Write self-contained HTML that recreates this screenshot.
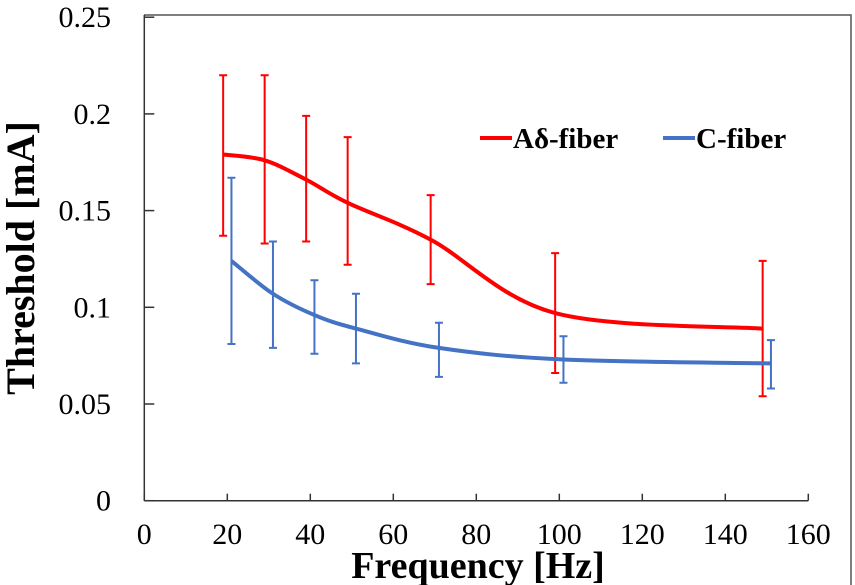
<!DOCTYPE html>
<html><head><meta charset="utf-8"><style>
html,body{margin:0;padding:0;background:#fff}
svg{display:block}
text{font-family:"Liberation Serif",serif;fill:#000}
</style></head><body>
<svg width="855" height="585" id="c">
<polyline points="144,15 851,15 851,585" fill="none" stroke="#555" stroke-width="1.5"/>
<g id="axes"></g>
<g id="series"></g>
<text x="34" y="258" font-size="40" font-weight="bold" text-anchor="middle" transform="rotate(-90 34 258)">Threshold [mA]</text>
<text x="478" y="578" font-size="38" font-weight="bold" text-anchor="middle">Frequency [Hz]</text>
<g>
<line x1="480" y1="138" x2="512" y2="138" stroke="#f00" stroke-width="4"/>
<text x="513" y="148" font-size="29" font-weight="bold">Aδ-fiber</text>
<line x1="663" y1="138" x2="695" y2="138" stroke="#4472c4" stroke-width="4"/>
<text x="696" y="148" font-size="29" font-weight="bold">C-fiber</text>
</g>
</svg>
<script>
const xTicks=[0,20,40,60,80,100,120,140,160];
const yTicks=[0,0.05,0.1,0.15,0.2,0.25];
const yTickLabels=["0","0.05","0.1","0.15","0.2","0.25"];
const aFreq=[19,29,39,49,69,99,149];
const aMean=[0.179,0.176,0.166,0.154,0.135,0.097,0.089];
const aHi=[0.220,0.220,0.199,0.188,0.158,0.128,0.124];
const aLo=[0.137,0.133,0.134,0.122,0.112,0.066,0.054];
const cFreq=[21,31,41,51,71,101,151];
const cMean=[0.124,0.107,0.096,0.089,0.079,0.073,0.071];
const cHi=[0.167,0.134,0.114,0.107,0.092,0.085,0.083];
const cLo=[0.081,0.079,0.076,0.071,0.064,0.061,0.058];
const X=v=>144.3+v*4.15, Y=v=>500.7-v*1934;
const NS="http://www.w3.org/2000/svg";
function mk(t,a,p){const e=document.createElementNS(NS,t);for(const k in a)e.setAttribute(k,a[k]);p.appendChild(e);return e;}
const ax=document.getElementById('axes'), se=document.getElementById('series');
let l=mk('line',{x1:X(0),y1:Y(0),x2:X(160),y2:Y(0),stroke:'#333','stroke-width':1.5},ax);


l=mk('line',{x1:X(0),y1:Y(0),x2:X(0),y2:15,stroke:'#333','stroke-width':1.5},ax);


xTicks.forEach(v=>{
 const t=mk('line',{x1:X(v),y1:Y(0),x2:X(v),y2:Y(0)-7,stroke:'#333','stroke-width':1.5},ax);
 
 
 const tx=mk('text',{x:X(v),y:544,'font-size':30,'text-anchor':'middle'},ax);tx.textContent=v;
 
 
});
yTicks.forEach((v,i)=>{
 const t=mk('line',{x1:X(0),y1:Y(v),x2:X(0)+10,y2:Y(v),stroke:'#333','stroke-width':1.5},ax);
 
 
 const tx=mk('text',{x:111,y:Y(v)+10,'font-size':30,'text-anchor':'end'},ax);tx.textContent=yTickLabels[i];
 
 
});
function curve(xs,ys){const p=xs.map((x,i)=>[X(x),Y(ys[i])]);let d=`M${p[0][0]},${p[0][1]}`;
 for(let i=0;i<p.length-1;i++){const p0=p[Math.max(0,i-1)],p1=p[i],p2=p[i+1],p3=p[Math.min(p.length-1,i+2)];
 d+=` C${p1[0]+(p2[0]-p0[0])/6},${p1[1]+(p2[1]-p0[1])/6} ${p2[0]-(p3[0]-p1[0])/6},${p2[1]-(p3[1]-p1[1])/6} ${p2[0]},${p2[1]}`;}return d;}
function series(xs,m,hi,lo,col,name){
 xs.forEach((x,i)=>{
  const g=mk('path',{d:`M${X(x)},${Y(hi[i])}V${Y(lo[i])}M${X(x)-4},${Y(hi[i])}h8M${X(x)-4},${Y(lo[i])}h8`,stroke:col,'stroke-width':2,fill:'none'},se);
  
  
 });
 const p=mk('path',{d:curve(xs,m),stroke:col,'stroke-width':4,fill:'none'},se);
 
 
}
series(aFreq,aMean,aHi,aLo,'#f00','adelta');
series(cFreq,cMean,cHi,cLo,'#4472c4','c-fiber');
</script>
</body></html>
